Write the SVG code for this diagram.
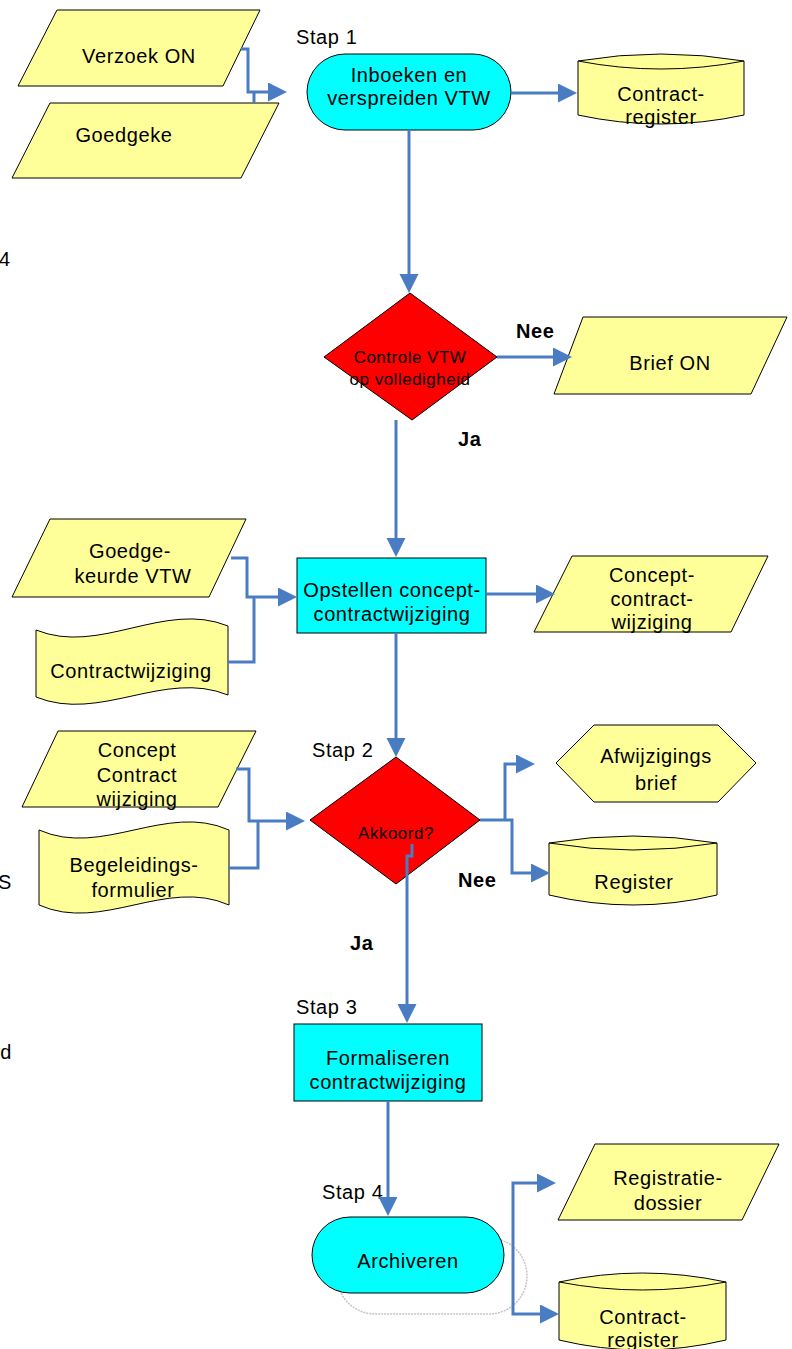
<svg xmlns="http://www.w3.org/2000/svg" width="792" height="1349" viewBox="0 0 792 1349">
  <style>
    .io { fill: #FFFF99; stroke: #000; stroke-width: 1; }
    .proc { fill: #00FFFF; stroke: #000; stroke-width: 1; }
    .dec { fill: #FF0000; stroke: #000; stroke-width: 1; }
    .edge { fill: none; stroke: #4A7CC4; stroke-width: 3; }
    .ghost { fill: none; stroke: #C4C4C4; stroke-width: 1.5; stroke-dasharray: 2 1; }
    text { font-family: "Liberation Sans", Arial, sans-serif; font-size: 20px; fill: #000; letter-spacing: 0.6px; }
    .c { text-anchor: middle; }
    .dt { font-size: 17px; letter-spacing: 0.5px; }
    .b { font-weight: bold; }
    .e { text-anchor: end; }
  </style>
  <defs>
    <marker id="arrow" markerUnits="userSpaceOnUse" markerWidth="20" markerHeight="20" refX="15" refY="9.5" orient="auto">
      <path d="M0,0 L19,9.5 L0,19 Z" fill="#4A7CC4"/>
    </marker>
  </defs>

  <rect width="792" height="1349" fill="#FFFFFF"/>

  <!-- stray labels at the left margin -->
  <text x="-1" y="266">4</text>
  <text class="e" x="12" y="889">S</text>
  <text class="e" x="12" y="1059">d</text>

  <!-- step labels -->
  <text x="296" y="44">Stap 1</text>
  <text x="312" y="757">Stap 2</text>
  <text x="296" y="1014">Stap 3</text>
  <text x="322" y="1199">Stap 4</text>

  <!-- decision labels -->
  <text class="b" x="516" y="338">Nee</text>
  <text class="b" x="458" y="446">Ja</text>
  <text class="b" x="458" y="887">Nee</text>
  <text class="b" x="350" y="950">Ja</text>

  <g id="verzoek-on">
    <polygon class="io" points="57,10 260,10 223,86 18,86"/>
    <text class="c" x="139" y="63">Verzoek ON</text>
  </g>

  <g id="goedgeke">
    <polygon class="io" points="50,103 279,103 241,178 12,178"/>
    <text class="c" x="124" y="142">Goedgeke</text>
  </g>

  <g id="inboeken">
    <rect class="proc" x="307" y="54" width="204" height="76" rx="38" ry="38"/>
    <text class="c" x="409" y="82">Inboeken en</text>
    <text class="c" x="409" y="105">verspreiden VTW</text>
  </g>

  <g id="contractregister-1">
    <path class="io" d="M578,61 Q661,47 744,61 L744,115 Q661,133 578,115 Z"/>
    <path class="io" fill="none" d="M578,61 Q661,77 744,61"/>
    <text class="c" x="661" y="101">Contract-</text>
    <text class="c" x="661" y="124">register</text>
  </g>

  <g id="controle-vtw">
    <polygon class="dec" points="410,293 497,357 412,420 324,357"/>
    <text class="c dt" x="410" y="363">Controle VTW</text>
    <text class="c dt" x="410" y="385">op volledigheid</text>
  </g>

  <g id="brief-on">
    <polygon class="io" points="583,317 787,317 751,394 554,394"/>
    <text class="c" x="670" y="370">Brief ON</text>
  </g>

  <g id="goedgekeurde-vtw">
    <polygon class="io" points="50,519 246,519 209,597 12,597"/>
    <text class="c" x="130" y="558">Goedge-</text>
    <text class="c" x="133" y="583">keurde VTW</text>
  </g>

  <g id="contractwijziging">
    <path class="io" d="M36,630 C100,656 164,600 228,626 L228,695 C164,669 100,723 36,697 Z"/>
    <text class="c" x="131" y="678">Contractwijziging</text>
  </g>

  <g id="opstellen">
    <rect class="proc" x="297" y="558" width="189" height="75"/>
    <text class="c" x="392" y="597">Opstellen concept-</text>
    <text class="c" x="392" y="621">contractwijziging</text>
  </g>

  <g id="concept-contractwijziging">
    <polygon class="io" points="572,556 768,556 731,632 534,632"/>
    <text class="c" x="652" y="582">Concept-</text>
    <text class="c" x="652" y="606">contract-</text>
    <text class="c" x="652" y="629">wijziging</text>
  </g>

  <g id="concept-contract-wijziging">
    <polygon class="io" points="58,731 256,731 218,807 22,807"/>
    <text class="c" x="137" y="757">Concept</text>
    <text class="c" x="137" y="782">Contract</text>
    <text class="c" x="137" y="806">wijziging</text>
  </g>

  <g id="begeleidingsformulier">
    <path class="io" d="M39,830 C102,858 166,802 229,830 L229,905 C166,877 102,933 39,905 Z"/>
    <text class="c" x="134" y="872">Begeleidings-</text>
    <text class="c" x="133" y="897">formulier</text>
  </g>

  <g id="akkoord">
    <polygon class="dec" points="396,757 480,820 396,884 310,820"/>
    <text class="c dt" x="396" y="839">Akkoord?</text>
  </g>

  <g id="afwijzingsbrief">
    <polygon class="io" points="556,763 594,725 718,725 756,763 718,802 594,802"/>
    <text class="c" x="656" y="763">Afwijzigings</text>
    <text class="c" x="656" y="790">brief</text>
  </g>

  <g id="register">
    <path class="io" d="M549,843 Q633,829 717,843 L717,895 Q633,915 549,895 Z"/>
    <path class="io" fill="none" d="M549,843 Q633,857 717,843"/>
    <text class="c" x="634" y="889">Register</text>
  </g>

  <g id="formaliseren">
    <rect class="proc" x="294" y="1024" width="188" height="77"/>
    <text class="c" x="388" y="1065">Formaliseren</text>
    <text class="c" x="388" y="1089">contractwijziging</text>
  </g>

  <g id="archiveren">
    <rect class="ghost" x="337" y="1238" width="190" height="76" rx="38" ry="38"/>
    <rect class="proc" x="312" y="1217" width="192" height="76" rx="38" ry="38"/>
    <text class="c" x="408" y="1268">Archiveren</text>
  </g>

  <g id="registratiedossier">
    <polygon class="io" points="595,1144 779,1144 742,1220 558,1220"/>
    <text class="c" x="668" y="1185">Registratie-</text>
    <text class="c" x="668" y="1210">dossier</text>
  </g>

  <g id="contractregister-2">
    <path class="io" d="M559,1282 Q642,1264 726,1282 L726,1340 Q642,1360 559,1340 Z"/>
    <path class="io" fill="none" d="M559,1282 Q642,1298 726,1282"/>
    <text class="c" x="643" y="1324">Contract-</text>
    <text class="c" x="643" y="1347">register</text>
  </g>

  <g id="connectors">
    <path class="edge" d="M241,49 H248 V92 H283" marker-end="url(#arrow)"/>
    <path class="edge" d="M254,92 V103"/>
    <path class="edge" d="M511,93 H573" marker-end="url(#arrow)"/>
    <path class="edge" d="M409,130 V289" marker-end="url(#arrow)"/>
    <path class="edge" d="M497,357 H568" marker-end="url(#arrow)"/>
    <path class="edge" d="M396,420 V553" marker-end="url(#arrow)"/>
    <path class="edge" d="M231,558 H247 V597 H293" marker-end="url(#arrow)"/>
    <path class="edge" d="M228,662 H254 V597"/>
    <path class="edge" d="M486,594 H551" marker-end="url(#arrow)"/>
    <path class="edge" d="M396,633 V753" marker-end="url(#arrow)"/>
    <path class="edge" d="M236,769 H249 V821 H301" marker-end="url(#arrow)"/>
    <path class="edge" d="M228,868 H258 V821"/>
    <path class="edge" d="M480,820 H512 V873 H546" marker-end="url(#arrow)"/>
    <path class="edge" d="M505,820 V764 H531" marker-end="url(#arrow)"/>
    <path class="edge" d="M412,844 V856 H407 V1019" marker-end="url(#arrow)"/>
    <path class="edge" d="M388,1101 V1212" marker-end="url(#arrow)"/>
    <path class="edge" d="M513,1248 V1183 H552" marker-end="url(#arrow)"/>
    <path class="edge" d="M513,1248 V1314 H555" marker-end="url(#arrow)"/>
  </g>
</svg>
